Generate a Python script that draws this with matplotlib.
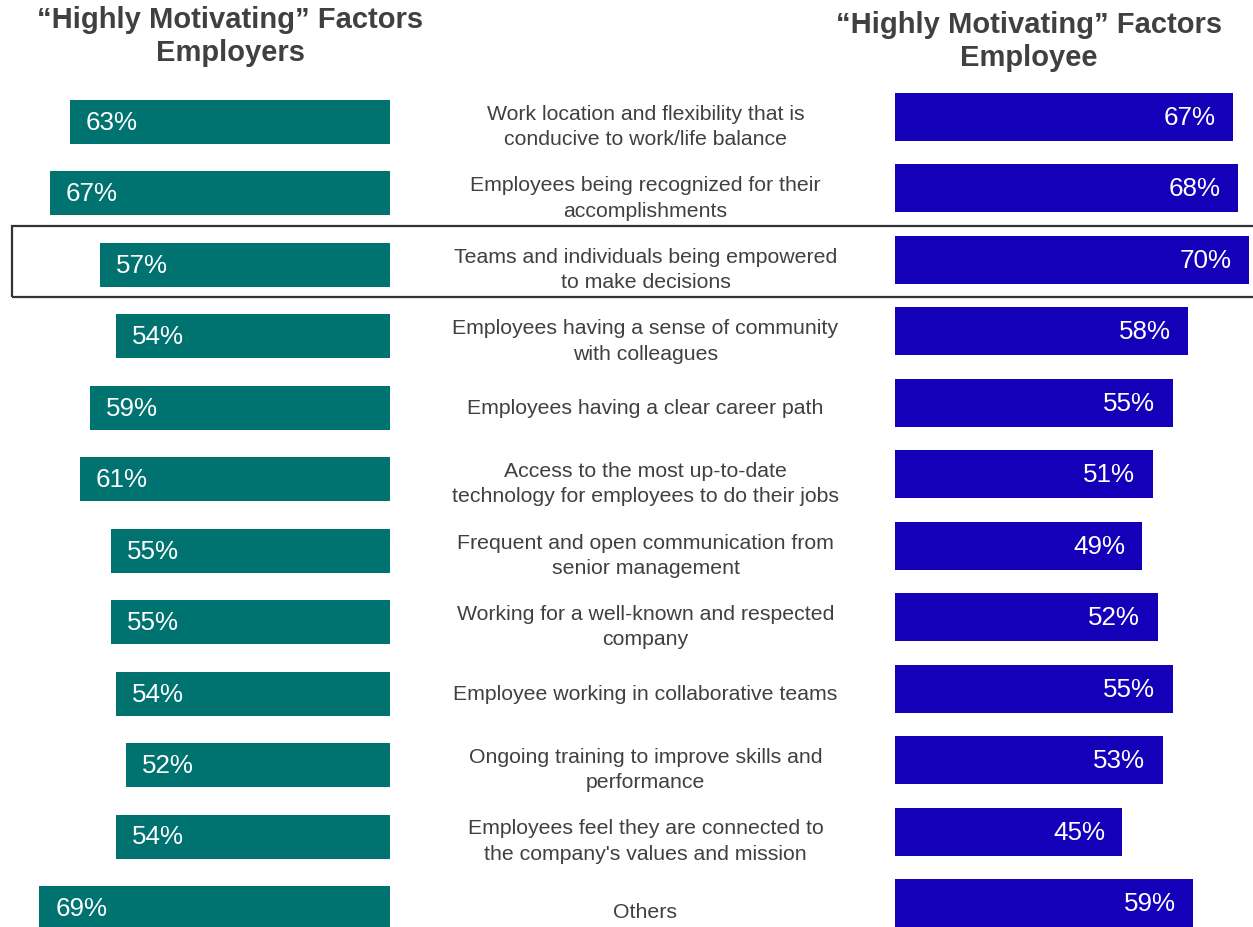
import matplotlib.pyplot as plt
from matplotlib.patches import Rectangle

plt.rcParams['font.family'] = ['Liberation Sans', 'DejaVu Sans']

# Data
factors = [
    'Work location and flexibility that is\nconducive to work/life balance',
    'Employees being recognized for their\naccomplishments',
    'Teams and individuals being empowered\nto make decisions',
    'Employees having a sense of community\nwith colleagues',
    'Employees having a clear career path',
    'Access to the most up-to-date\ntechnology for employees to do their jobs',
    'Frequent and open communication from\nsenior management',
    'Working for a well-known and respected\ncompany',
    'Employee working in collaborative teams',
    'Ongoing training to improve skills and\nperformance',
    "Employees feel they are connected to\nthe company's values and mission",
    'Others',
]
employers = [63, 67, 57, 54, 59, 61, 55, 55, 54, 52, 54, 69]
employee = [67, 68, 70, 58, 55, 51, 49, 52, 55, 53, 45, 59]

teal = '#007270'
blue = '#1400B8'
grey = '#404040'

W, H = 1253, 928
fig = plt.figure(figsize=(W / 100, H / 100), dpi=100)
pitch = 71.45  # px per row
rows = range(len(factors))


def add_axes(x0, x1, first_center):
    top = first_center - pitch / 2
    ax = fig.add_axes([x0 / W, 0, (x1 - x0) / W, (H - top) / H])
    ax.set_ylim((H - first_center) / pitch, -0.5)
    ax.axis('off')
    return ax


# Left: employers
axl = add_axes(0, 390, 123)
axl.barh(rows, employers, height=44 / pitch, color=teal)
axl.set_xlim(390 / 5.08, 0)
for i, v in enumerate(employers):
    axl.annotate(f'{v}%', (v, i), xytext=(11.5, 0), textcoords='offset points',
                 ha='left', va='center', color='white', fontsize=18.7)

# Right: employee
axr = add_axes(895, W, 118)
axr.barh(rows, employee, height=48 / pitch, color=blue)
axr.set_xlim(0, (W - 895) / 5.05)
for i, v in enumerate(employee):
    axr.annotate(f'{v}%', (v, i), xytext=(-12.5, 0), textcoords='offset points',
                 ha='right', va='center', color='white', fontsize=18.7)

# Middle labels (single lines sit a little higher in the original)
axm = add_axes(393, 898, 127)
axm.set_xlim(0, 1)
for i, lab in enumerate(factors):
    shift = 0 if ('\n' in lab or lab == 'Others') else -4
    axm.annotate(lab, (0.5, i), xytext=(0, -shift * 0.72), textcoords='offset points',
                 ha='center', va='center', fontsize=15.3,
                 color=grey, linespacing=1.42)

# Titles
fig.text(230 / W, 1 - 36.5 / H, '\u201cHighly Motivating\u201d Factors\nEmployers',
         ha='center', va='center', fontsize=21, fontweight='bold',
         color=grey, linespacing=1.22)
fig.text(1029 / W, 1 - 41.5 / H, '\u201cHighly Motivating\u201d Factors\nEmployee',
         ha='center', va='center', fontsize=21, fontweight='bold',
         color=grey, linespacing=1.22)

# Highlight box around row 3
fig.patches.append(Rectangle((12 / W, 1 - 298 / H), 1.0, 71 / H,
                             transform=fig.transFigure, fill=False,
                             edgecolor='#333333', linewidth=1.6))

fig.savefig('out.png', dpi=100)
